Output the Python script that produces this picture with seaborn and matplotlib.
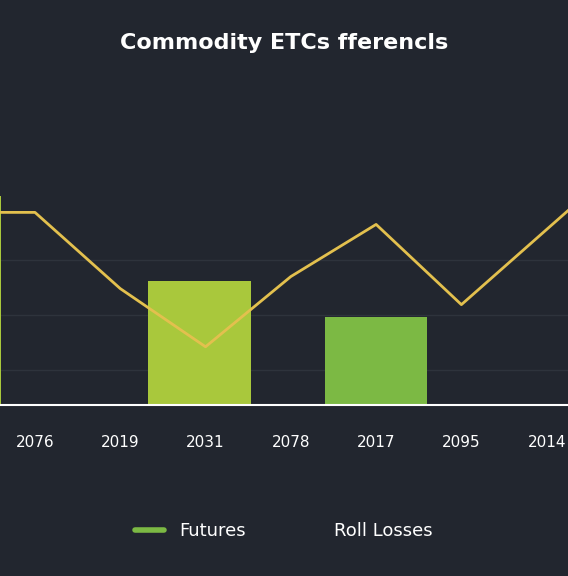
import numpy as np
import pandas as pd
import seaborn as sns
import matplotlib.pyplot as plt
from matplotlib.lines import Line2D

years = ["2076", "2019", "2031", "2078", "2017", "2095", "2014"]
bar_pos = [-1, 1.93, 4]
bar_vals = [104, 62, 44]
bar_colors = ["#a9c83c", "#a9c83c", "#7cb944"]
line_pos = [-1, 0, 1, 2, 3, 4, 5, 7]
line_vals = [96, 96, 58, 29, 64, 90, 50, 125]

bg = "#22262f"
sns.set_theme(style="dark")
plt.rcParams["font.family"] = ["DejaVu Sans"]

fig = plt.figure(figsize=(5.68, 5.76), dpi=100, facecolor=bg)
ax = fig.add_axes([0, 0.297, 1, 0.39], facecolor=bg)

ax.bar(bar_pos, bar_vals, width=1.2, color=bar_colors, linewidth=0, zorder=2)
df = pd.DataFrame({"x": line_pos, "y": line_vals})
sns.lineplot(data=df, x="x", y="y", ax=ax, color="#e3c04e", linewidth=2, zorder=3)

ax.set_xlim(-0.41, 6.25)
ax.set_ylim(0, 112)
ax.set_xticks(range(len(years)))
ax.set_xticklabels(years, color="white", fontsize=11)
ax.set_yticks([17.5, 45, 72.5])
ax.set_yticklabels([])
ax.grid(axis="y", color="#2e333c", linewidth=1)
ax.tick_params(axis="x", direction="in", length=5, color="white", pad=22)
ax.tick_params(axis="y", length=0)
for s in ["top", "left", "right"]:
    ax.spines[s].set_visible(False)
ax.spines["bottom"].set_color("white")
ax.spines["bottom"].set_linewidth(1.5)
ax.set_xlabel("")
ax.set_ylabel("")

fig.text(0.5, 0.925, "Commodity ETCs fferencls", ha="center", va="center",
         color="white", fontsize=16, fontweight="semibold")

handles = [Line2D([], [], color="#7cb944", linewidth=4),
           Line2D([], [], color=bg, linewidth=0)]
leg = fig.legend(handles, ["Futures", "Roll Losses"], loc="center",
                 bbox_to_anchor=(0.5, 0.078), ncol=2, frameon=False,
                 fontsize=13, labelcolor="white", columnspacing=2.5,
                 handlelength=1.6)

fig.savefig("out.png", facecolor=bg)
